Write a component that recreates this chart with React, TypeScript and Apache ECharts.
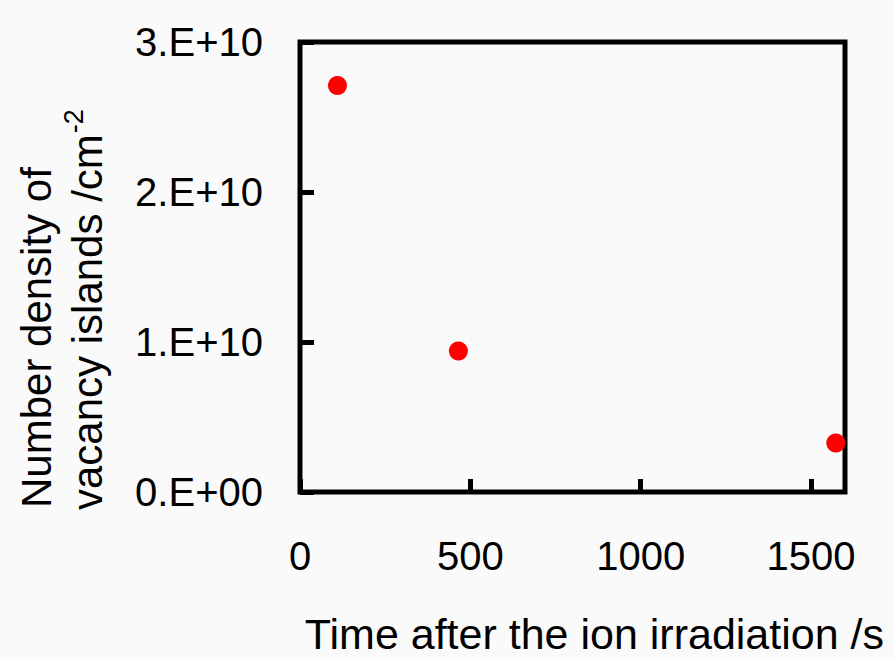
import React, { useEffect, useRef } from "react";
import * as echarts from "echarts";

// Elapsed time after irradiation (s) and the measured island densities (cm^-2)
const timeSeconds = [110, 465, 1573];
const islandDensity = [2.71e10, 0.94e10, 0.327e10];

const xTicks = [0, 500, 1000, 1500];
const yTicks = [0, 1e10, 2e10, 3e10];

const xTitle = "Time after the ion irradiation /s";
const yTitleLine1 = "Number density of";
const yTitleLine2 = "vacancy islands /cm";
const yTitleSup = "-2";

const FONT = "'Liberation Sans', Arial, sans-serif";

// Excel-like "0.E+00" scientific format
function sciLabel(v: number): string {
  if (v === 0) return "0.E+00";
  const exp = Math.floor(Math.log10(Math.abs(v)));
  const mant = Math.round(v / Math.pow(10, exp));
  const e = String(Math.abs(exp)).padStart(2, "0");
  return `${mant}.E${exp < 0 ? "-" : "+"}${e}`;
}

export default function App() {
  const ref = useRef<HTMLDivElement>(null);

  useEffect(() => {
    if (!ref.current) return;
    const chart = echarts.init(ref.current, undefined, { renderer: "svg" });
    const points = timeSeconds.map((t, i) => [t, islandDensity[i]]);

    chart.setOption({
      animation: false,
      backgroundColor: "#fafafa",
      textStyle: { fontFamily: FONT },
      grid: {
        left: 300,
        right: 49,
        top: 42,
        bottom: 167,
        show: true,
        borderColor: "#000",
        borderWidth: 5,
        backgroundColor: "transparent",
      },
      xAxis: {
        type: "value",
        min: 0,
        max: 1600,
        interval: 500,
        axisLine: { show: false },
        splitLine: { show: false },
        axisTick: {
          show: true,
          inside: true,
          length: 13,
          lineStyle: { color: "#000", width: 5 },
          customValues: xTicks,
        },
        axisLabel: {
          color: "#000",
          fontSize: 40,
          fontFamily: FONT,
          margin: 44,
          formatter: (v: number) => String(v),
          customValues: xTicks,
        },
      },
      yAxis: {
        type: "value",
        min: 0,
        max: 3e10,
        interval: 1e10,
        axisLine: { show: false },
        splitLine: { show: false },
        axisTick: {
          show: true,
          inside: true,
          length: 14,
          lineStyle: { color: "#000", width: 5 },
          customValues: yTicks,
        },
        axisLabel: {
          color: "#000",
          fontSize: 40,
          fontFamily: FONT,
          margin: 37,
          formatter: (v: number) => sciLabel(v),
          customValues: yTicks,
        },
      },
      graphic: [
        {
          type: "text",
          x: 884,
          y: 634,
          style: {
            text: xTitle,
            font: `43px ${FONT}`,
            fill: "#000",
            textAlign: "right",
            textVerticalAlign: "middle",
          },
        },
        {
          type: "text",
          x: 36,
          y: 508,
          rotation: Math.PI / 2,
          style: {
            text: yTitleLine1,
            font: `42px ${FONT}`,
            fill: "#000",
            textAlign: "left",
            textVerticalAlign: "middle",
          },
        },
        {
          type: "text",
          x: 84,
          y: 510,
          rotation: Math.PI / 2,
          style: {
            text: `{a|${yTitleLine2}}{s|${yTitleSup}}`,
            fill: "#000",
            textAlign: "left",
            textVerticalAlign: "middle",
            rich: {
              a: { fontSize: 42, fontFamily: FONT, fill: "#000", lineHeight: 48, verticalAlign: "bottom" },
              s: { fontSize: 27, fontFamily: FONT, fill: "#000", lineHeight: 48, verticalAlign: "top", padding: [0, 0, 0, 1] },
            },
          },
        },
      ],
      series: [
        {
          type: "scatter",
          data: points,
          symbol: "circle",
          symbolSize: 19,
          itemStyle: { color: "#ff0000", opacity: 1 },
        },
      ],
    });

    return () => chart.dispose();
  }, []);

  return (
    <div
      ref={ref}
      style={{ position: "fixed", left: 0, top: 0, width: 894, height: 659 }}
    />
  );
}
